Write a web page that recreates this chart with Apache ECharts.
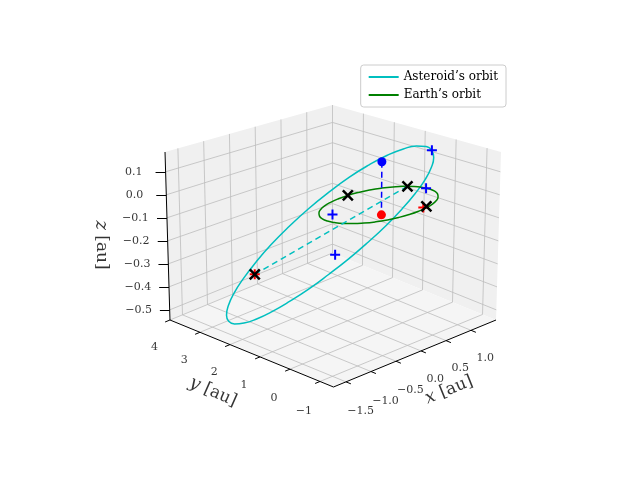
<!DOCTYPE html>
<html>
<head>
<meta charset="utf-8">
<script src="https://cdn.jsdelivr.net/npm/echarts@6/dist/echarts.min.js"></script>
<style>html,body{margin:0;background:#fff}#chart{width:640px;height:480px}</style>
</head>
<body>
<div id="chart"></div>
<script>
// axis limits of the 3d box
var xLim = [-1.75, 1.5];
var yLim = [-1.45, 4.0];
var zLim = [-0.544, 0.186];
var xTicks = [-1.5, -1.0, -0.5, 0.0, 0.5, 1.0];
var yTicks = [-1, 0, 1, 2, 3, 4];
var zTicks = [-0.5, -0.4, -0.3, -0.2, -0.1, 0.0, 0.1];

// orbits, [x, y, z] in au
var asteroidOrbit = [
    [1.17, 0.23, 0.15], [1.283, 0.354, 0.106], [1.350, 0.533, 0.050], [1.368, 0.759, -0.017],
    [1.337, 1.023, -0.090], [1.258, 1.315, -0.168], [1.135, 1.625, -0.249], [0.970, 1.942, -0.328],
    [0.771, 2.250, -0.403], [0.546, 2.540, -0.470], [0.303, 2.801, -0.529], [0.052, 3.021, -0.574],
    [-0.197, 3.193, -0.606], [-0.436, 3.311, -0.623], [-0.655, 3.369, -0.624], [-0.845, 3.366, -0.610],
    [-1.0, 3.3, -0.58], [-1.113, 3.176, -0.536], [-1.180, 2.997, -0.480], [-1.198, 2.771, -0.413],
    [-1.167, 2.507, -0.340], [-1.088, 2.215, -0.262], [-0.965, 1.905, -0.181], [-0.800, 1.588, -0.102],
    [-0.601, 1.280, -0.027], [-0.376, 0.990, 0.040], [-0.133, 0.729, 0.099], [0.118, 0.509, 0.144],
    [0.367, 0.337, 0.176], [0.606, 0.219, 0.193], [0.825, 0.161, 0.194], [1.015, 0.164, 0.180],
    [1.17, 0.23, 0.15]
];
var earthOrbit = [
    [1, 0, 0], [0.981, 0.195, 0], [0.924, 0.383, 0], [0.831, 0.556, 0], [0.707, 0.707, 0],
    [0.556, 0.831, 0], [0.383, 0.924, 0], [0.195, 0.981, 0], [0, 1, 0],
    [-0.195, 0.981, 0], [-0.383, 0.924, 0], [-0.556, 0.831, 0], [-0.707, 0.707, 0],
    [-0.831, 0.556, 0], [-0.924, 0.383, 0], [-0.981, 0.195, 0], [-1, 0, 0],
    [-0.981, -0.195, 0], [-0.924, -0.383, 0], [-0.831, -0.556, 0], [-0.707, -0.707, 0],
    [-0.556, -0.831, 0], [-0.383, -0.924, 0], [-0.195, -0.981, 0], [0, -1, 0],
    [0.195, -0.981, 0], [0.383, -0.924, 0], [0.556, -0.831, 0], [0.707, -0.707, 0],
    [0.831, -0.556, 0], [0.924, -0.383, 0], [0.981, -0.195, 0], [1, 0, 0]
];
var bluePlus = [[1.17, 0.23, 0.15], [0.99, 0.1, 0], [-0.9, 0, 0.02], [-0.5, 0.58, -0.2]];
var blackX = [[0.42, -0.86, 0], [0.866, 0.5, 0], [0, 1, 0], [-0.87, 2.62, -0.35]];
var redPlus = [[0.36, -0.86, 0], [-0.87, 2.62, -0.35]];
var nodeLine = [[-0.87, 2.62, -0.35], [0.866, 0.5, 0]];
var bluePoint = [0.3, 0.4, 0.15];
var redPoint = [0.3, 0.4, -0.08];

// rough matplotlib-like view (azim -135, elev ~25) with a little perspective
function proj(p) {
    var a = (p[0] - xLim[0]) / (xLim[1] - xLim[0]) - 0.5;
    var b = (p[1] - yLim[0]) / (yLim[1] - yLim[0]) - 0.5;
    var c = (p[2] - zLim[0]) / (zLim[1] - zLim[0]) - 0.5;
    var s = 1 + 0.03 * c;
    return [333 + s * (165 * a - 166 * b), 244 + (57 - 20 * c) * (a + b) + 168 * c];
}
function seg(p, q) { return { coords: [proj(p), proj(q)] }; }
function fmt(v, d) { return v.toFixed(d).replace('-', '\u2212'); }

var x0 = xLim[0], x1 = xLim[1], y0 = yLim[0], y1 = yLim[1], z0 = zLim[0], z1 = zLim[1];
var panes = [
    [[x1, y0, z0], [x1, y1, z0], [x1, y1, z1], [x1, y0, z1]],
    [[x0, y1, z0], [x1, y1, z0], [x1, y1, z1], [x0, y1, z1]],
    [[x0, y0, z0], [x1, y0, z0], [x1, y1, z0], [x0, y1, z0]]
];
var gridSegs = [];
xTicks.forEach(function (t) {
    gridSegs.push(seg([t, y0, z0], [t, y1, z0]));
    gridSegs.push(seg([t, y1, z0], [t, y1, z1]));
});
yTicks.forEach(function (t) {
    gridSegs.push(seg([x0, t, z0], [x1, t, z0]));
    gridSegs.push(seg([x1, t, z0], [x1, t, z1]));
});
zTicks.forEach(function (t) {
    gridSegs.push(seg([x0, y1, t], [x1, y1, t]));
    gridSegs.push(seg([x1, y0, t], [x1, y1, t]));
});
var axisSegs = [seg([x0, y0, z0], [x1, y0, z0]), seg([x0, y0, z0], [x0, y1, z0]), seg([x0, y1, z0], [x0, y1, z1])];
var labels = [];
var dy = y1 - y0, dx = x1 - x0, dz = z1 - z0;
xTicks.forEach(function (t) {
    axisSegs.push(seg([t, y0, z0], [t, y0 - 0.03 * dy, z0]));
    labels.push({ value: proj([t, y0 - 0.09 * dy, z0 - 0.125 * dz]), text: fmt(t, 1) });
});
yTicks.forEach(function (t) {
    axisSegs.push(seg([x0, t, z0], [x0 - 0.03 * dx, t, z0]));
    labels.push({ value: proj([x0 - 0.1 * dx, t, z0 - 0.12 * dz]), text: fmt(t, 0) });
});
zTicks.forEach(function (t) {
    axisSegs.push(seg([x0, y1, t], [x0 - 0.03 * dx, y1 + 0.03 * dy, t]));
    labels.push({ value: proj([x0 - 0.1 * dx, y1 + 0.09 * dy, t]), text: fmt(t, 1) });
});

var plusPath = 'path://M0,-5L0,5M-5,0L5,0';
var xPath = 'path://M-5,-5L5,5M-5,5L5,-5';
var serif = 'DejaVu Serif';

var chart = echarts.init(document.getElementById('chart'));
chart.setOption({
    animation: false,
    backgroundColor: '#fff',
    grid: { left: 0, right: 0, top: 0, bottom: 0 },
    xAxis: { type: 'value', min: 0, max: 640, show: false },
    yAxis: { type: 'value', min: 0, max: 480, show: false },
    legend: {
        orient: 'vertical', right: 134, top: 65, itemWidth: 30, itemHeight: 2, itemGap: 6,
        padding: [6, 8], borderColor: '#ccc', borderWidth: 1, borderRadius: 3, backgroundColor: '#fff',
        textStyle: { fontFamily: serif, fontSize: 12, color: '#000' },
        icon: 'rect', data: ["Asteroid\u2019s orbit", "Earth\u2019s orbit"]
    },
    series: [
        {
            type: 'custom', z: 1, silent: true,
            data: panes.map(function (p, i) { return [i]; }),
            renderItem: function (params, api) {
                var pts = panes[params.dataIndex].map(function (p) { return api.coord(proj(p)); });
                return { type: 'polygon', shape: { points: pts }, style: { fill: params.dataIndex == 2 ? '#f5f5f5' : '#f0f0f0' } };
            }
        },
        { type: 'lines', coordinateSystem: 'cartesian2d', z: 2, data: gridSegs, lineStyle: { color: '#bdbdbd', width: 0.8, opacity: 1 } },
        { type: 'lines', coordinateSystem: 'cartesian2d', z: 3, data: axisSegs, lineStyle: { color: '#000', width: 1, opacity: 1 } },
        {
            type: 'scatter', z: 3, symbolSize: 0, data: labels,
            label: { show: true, position: 'inside', formatter: function (p) { return p.data.text; }, fontFamily: serif, fontSize: 11, color: '#000' }
        },
        {
            type: 'scatter', z: 3, symbolSize: 0,
            data: [
                { value: [449, 90], text: '{i|x} [au]', label: { rotate: 22 } },
                { value: [213, 88], text: '{i|y} [au]', label: { rotate: -24 } },
                { value: [101, 235], text: '{i|z} [au]', label: { rotate: -90 } }
            ],
            label: {
                show: true, position: 'inside', fontFamily: serif, fontSize: 17, color: '#000',
                formatter: function (p) { return p.data.text; },
                rich: { i: { fontFamily: serif, fontStyle: 'italic', fontSize: 18, color: '#000' } }
            }
        },
        {
            name: "Asteroid\u2019s orbit", type: 'line', z: 5, smooth: true, showSymbol: false,
            data: asteroidOrbit.map(proj), lineStyle: { color: '#00bfbf', width: 1.5 }, itemStyle: { color: '#00bfbf' }
        },
        {
            name: "Earth\u2019s orbit", type: 'line', z: 5, smooth: true, showSymbol: false,
            data: earthOrbit.map(proj), lineStyle: { color: '#008000', width: 1.5 }, itemStyle: { color: '#008000' }
        },
        { type: 'line', z: 5, showSymbol: false, data: nodeLine.map(proj), lineStyle: { color: '#00bfbf', width: 1.5, type: [6, 4] } },
        { type: 'line', z: 5, showSymbol: false, data: [proj(bluePoint), proj(redPoint)], lineStyle: { color: '#0000ff', width: 1.5, type: [6, 4] } },
        { type: 'scatter', z: 6, symbol: 'circle', symbolSize: 9, data: [proj(bluePoint)], itemStyle: { color: '#0000ff', opacity: 1 } },
        { type: 'scatter', z: 6, symbol: 'circle', symbolSize: 9, data: [proj(redPoint)], itemStyle: { color: '#ff0000', opacity: 1 } },
        { type: 'scatter', z: 6, symbol: plusPath, symbolSize: 10, data: redPlus.map(proj), itemStyle: { color: 'none', borderColor: '#ff0000', borderWidth: 2, opacity: 1 } },
        { type: 'scatter', z: 7, symbol: plusPath, symbolSize: 10, data: bluePlus.map(proj), itemStyle: { color: 'none', borderColor: '#0000ff', borderWidth: 2, opacity: 1 } },
        { type: 'scatter', z: 7, symbol: xPath, symbolSize: 10, data: blackX.map(proj), itemStyle: { color: 'none', borderColor: '#000', borderWidth: 2.5, opacity: 1 } }
    ]
});
</script>
</body>
</html>
